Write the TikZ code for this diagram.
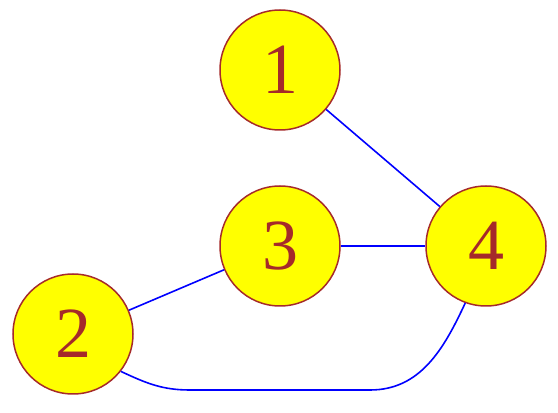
\documentclass[tikz,border=0pt]{standalone}
\usepackage{fontspec}
\setmainfont{Liberation Serif}
\definecolor{nodebrown}{RGB}{165,42,42}
\definecolor{nodeyellow}{RGB}{255,255,0}
\definecolor{edgeblue}{RGB}{0,0,255}
\begin{document}
\begin{tikzpicture}[x=1pt,y=1pt,
  vert/.style={circle,draw=nodebrown,fill=nodeyellow,line width=1.5pt,minimum size=120pt,inner sep=0pt,text=nodebrown,font=\fontsize{72}{72}\selectfont},
  edge/.style={draw=edgeblue,line width=1.6pt}]
\useasboundingbox (0,0) rectangle (558,413);
\node[vert] (n1) at (280,343) {1};
\node[vert] (n3) at (280,167) {3};
\node[vert] (n2) at (73,79) {2};
\node[vert] (n4) at (486,167) {4};
\coordinate (c1) at (190,23);
\coordinate (c2) at (370,23);
\draw[edge] (n1) -- (n4);
\draw[edge] (n2) -- (n3);
\draw[edge] (n3) -- (n4);
\draw[edge] (n2.-38) to[out=-25,in=180] (c1) -- (c2) to[out=0,in=-115] (n4.-110);
\end{tikzpicture}
\end{document}
